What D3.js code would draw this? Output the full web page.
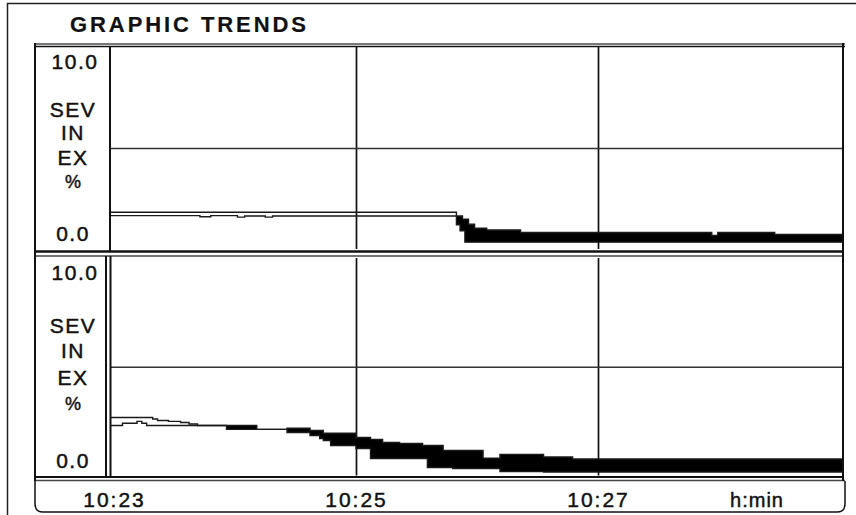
<!DOCTYPE html>
<html>
<head>
<meta charset="utf-8">
<script src="https://cdn.jsdelivr.net/npm/d3@7"></script>
<style>
  body { margin: 0; background: #fff; }
  svg text { font-family: "Liberation Sans", Arial, sans-serif; fill: #111; stroke: #111; stroke-width: 0.45; }
</style>
</head>
<body>
<script>
// data: minutes after 10:23, value in %
var topInsp = [[-0.03, 1.82], [2.83, 1.20], [2.86, 0.90], [2.90, 0.34], [6.02, 0.34]];
var topExp = [[-0.03, 1.65], [0.71, 1.60], [0.80, 1.65], [1.02, 1.58], [1.08, 1.63], [1.25, 1.58],
  [1.31, 1.63], [2.85, 1.63], [2.88, 1.48], [2.93, 1.23], [2.98, 1.03], [3.08, 0.94], [3.36, 0.82],
  [4.94, 0.67], [4.99, 0.82], [5.46, 0.72], [6.02, 0.72]];

var botInsp = [[-0.03, 2.67], [0.32, 2.60], [0.36, 2.53], [0.45, 2.49], [0.55, 2.44], [0.62, 2.37],
  [0.69, 2.30], [0.93, 2.12], [1.43, 1.98], [1.62, 1.84], [1.70, 1.70], [1.73, 1.61], [1.79, 1.38],
  [2.00, 1.24], [2.12, 0.78], [2.59, 0.37], [2.80, 0.32], [3.19, 0.18], [3.55, 0.16], [6.02, 0.16]];
var botExp = [[-0.03, 2.30], [0.07, 2.40], [0.19, 2.49], [0.23, 2.40], [0.27, 2.30], [0.93, 2.30],
  [1.18, 2.12], [1.43, 2.17], [1.62, 2.07], [1.73, 1.94], [2.00, 1.75], [2.12, 1.66], [2.22, 1.52],
  [2.36, 1.47], [2.55, 1.38], [2.72, 1.15], [3.05, 0.80], [3.19, 0.97], [3.55, 0.85], [3.79, 0.76],
  [6.02, 0.76]];

var timeTicks = [0, 2, 4];
var timeLabels = ["10:23", "10:25", "10:27"];
var unitLabel = "h:min";
var valueTicks = ["10.0", "0.0"];
var paramLabels = ["SEV", "IN", "EX", "%"];
var title = "GRAPHIC TRENDS";

// layout
var W = 856, H = 515;
var frameL = 35, plotL = 110, plotR = 843;

var svg = d3.select("body").append("svg")
  .attr("width", W)
  .attr("height", H);

// outer frame (left + top visible)
svg.append("path")
  .attr("d", "M7.5,515 V3.5 H856")
  .attr("fill", "none")
  .attr("stroke", "#222")
  .attr("stroke-width", 1.5);

svg.append("text")
  .attr("x", 70).attr("y", 32)
  .attr("font-size", 22)
  .attr("font-weight", "bold")
  .attr("textLength", 236)
  .attr("lengthAdjust", "spacing")
  .style("stroke-width", 0.2)
  .text(title);

var x = d3.scaleLinear()
  .domain([0, 2])
  .range([114, 356]);

var panels = [
  {insp: topInsp, exp: topExp, top: 47, bottom: 249},
  {insp: botInsp, exp: botExp, top: 258, bottom: 475.5}
];

function stepAt(series, t) {
  var v = series[0][1];
  series.forEach(function(p) { if (p[0] <= t) v = p[1]; });
  return v;
}

panels.forEach(function(p, pi) {
  var y = d3.scaleLinear().domain([0, 10]).range([p.bottom, p.top]);
  var g = svg.append("g");

  // gridlines
  g.append("g")
    .attr("transform", "translate(0," + p.bottom + ")")
    .call(d3.axisBottom(x).tickValues(timeTicks.slice(1)).tickSize(-(p.bottom - p.top)).tickFormat(""))
    .call(function(a) {
      a.select(".domain").remove();
      a.selectAll("line").attr("stroke", "#111").attr("stroke-width", 1.7);
    });
  g.append("g")
    .attr("transform", "translate(" + plotL + ",0)")
    .call(d3.axisLeft(y).tickValues([5]).tickSize(-(plotR - plotL)).tickFormat(""))
    .call(function(a) {
      a.select(".domain").remove();
      a.selectAll("line").attr("stroke", "#333").attr("stroke-width", 1.4);
    });

  // merged steps for the filled gap (exp above insp)
  var times = Array.from(new Set(p.insp.map(function(d) { return d[0]; })
    .concat(p.exp.map(function(d) { return d[0]; })))).sort(d3.ascending);
  var merged = times.map(function(t) {
    return {t: t, insp: stepAt(p.insp, t), exp: stepAt(p.exp, t)};
  });

  g.append("path")
    .datum(merged)
    .attr("fill", "#000")
    .attr("d", d3.area()
      .curve(d3.curveStepAfter)
      .x(function(d) { return x(d.t); })
      .y0(function(d) { return y(d.insp); })
      .y1(function(d) { return y(Math.max(d.insp, d.exp)); }));

  var line = d3.line()
    .curve(d3.curveStepAfter)
    .x(function(d) { return x(d[0]); })
    .y(function(d) { return y(d[1]); });

  [p.insp, p.exp].forEach(function(s) {
    g.append("path")
      .datum(s)
      .attr("fill", "none")
      .attr("stroke", "#1a1a1a")
      .attr("stroke-width", 1.4)
      .attr("d", line);
  });

  // value labels in the left column
  g.append("text")
    .attr("x", 75).attr("y", y(10) + 22)
    .attr("text-anchor", "middle")
    .attr("font-size", 21).attr("letter-spacing", 1.5)
    .text(valueTicks[0]);
  g.append("text")
    .attr("x", 73).attr("y", y(0) - 8)
    .attr("text-anchor", "middle")
    .attr("font-size", 21).attr("letter-spacing", 1.5)
    .text(valueTicks[1]);
  var labelAt = [6.55, 5.42, 4.15, 3.02];
  paramLabels.forEach(function(l, i) {
    g.append("text")
      .attr("x", 73).attr("y", y(labelAt[i]))
      .attr("text-anchor", "middle")
      .attr("font-size", l === "%" ? 18 : 21)
      .attr("letter-spacing", l === "%" ? 0 : 1.5)
      .text(l);
  });
});

// frame lines
var frame = svg.append("g").attr("fill", "none").attr("stroke", "#111");
frame.append("line").attr("x1", frameL).attr("x2", plotR + 2).attr("y1", 44).attr("y2", 44)
  .attr("stroke", "#777").attr("stroke-width", 2);
frame.append("line").attr("x1", frameL).attr("x2", plotR + 2).attr("y1", 46.5).attr("y2", 46.5)
  .attr("stroke-width", 1.5);
frame.append("line").attr("x1", frameL).attr("x2", plotR).attr("y1", 251.5).attr("y2", 251.5)
  .attr("stroke-width", 2.5);
frame.append("line").attr("x1", frameL).attr("x2", plotR).attr("y1", 256).attr("y2", 256)
  .attr("stroke", "#444").attr("stroke-width", 1.5);
frame.append("line").attr("x1", frameL).attr("x2", plotR).attr("y1", 477).attr("y2", 477)
  .attr("stroke-width", 2);
frame.append("line").attr("x1", frameL).attr("x2", plotR + 2).attr("y1", 480.5).attr("y2", 480.5)
  .attr("stroke", "#444").attr("stroke-width", 1.5);
frame.append("line").attr("x1", frameL).attr("x2", frameL).attr("y1", 43).attr("y2", 481)
  .attr("stroke-width", 2);
frame.append("line").attr("x1", plotR).attr("x2", plotR).attr("y1", 43).attr("y2", 481)
  .attr("stroke-width", 2);
frame.append("line").attr("x1", plotL).attr("x2", plotL).attr("y1", 46).attr("y2", 252)
  .attr("stroke-width", 2);
frame.append("line").attr("x1", plotL - 4).attr("x2", plotL - 4).attr("y1", 256).attr("y2", 478)
  .attr("stroke-width", 2);
frame.append("line").attr("x1", plotL + 0.5).attr("x2", plotL + 0.5).attr("y1", 256).attr("y2", 478)
  .attr("stroke-width", 2);

// time axis box
frame.append("path")
  .attr("d", "M" + frameL + ",481 V504 Q" + frameL + ",512 " + (frameL + 8) + ",512 H" + (plotR - 6) +
    " Q" + (plotR + 2) + ",512 " + (plotR + 2) + ",504 V481")
  .attr("stroke-width", 1.5);

svg.append("g")
  .attr("transform", "translate(0,481)")
  .call(d3.axisBottom(x).tickValues(timeTicks).tickSize(0).tickPadding(11)
    .tickFormat(function(d, i) { return timeLabels[i]; }))
  .call(function(a) {
    a.select(".domain").remove();
    a.selectAll("text")
      .attr("font-size", 21)
      .attr("letter-spacing", 2)
      .attr("fill", "#111")
      .style("font-family", "'Liberation Sans', Arial, sans-serif");
  });

svg.append("text")
  .attr("x", 757).attr("y", 507)
  .attr("text-anchor", "middle")
  .attr("font-size", 20)
  .attr("letter-spacing", 1)
  .text(unitLabel);
</script>
</body>
</html>
